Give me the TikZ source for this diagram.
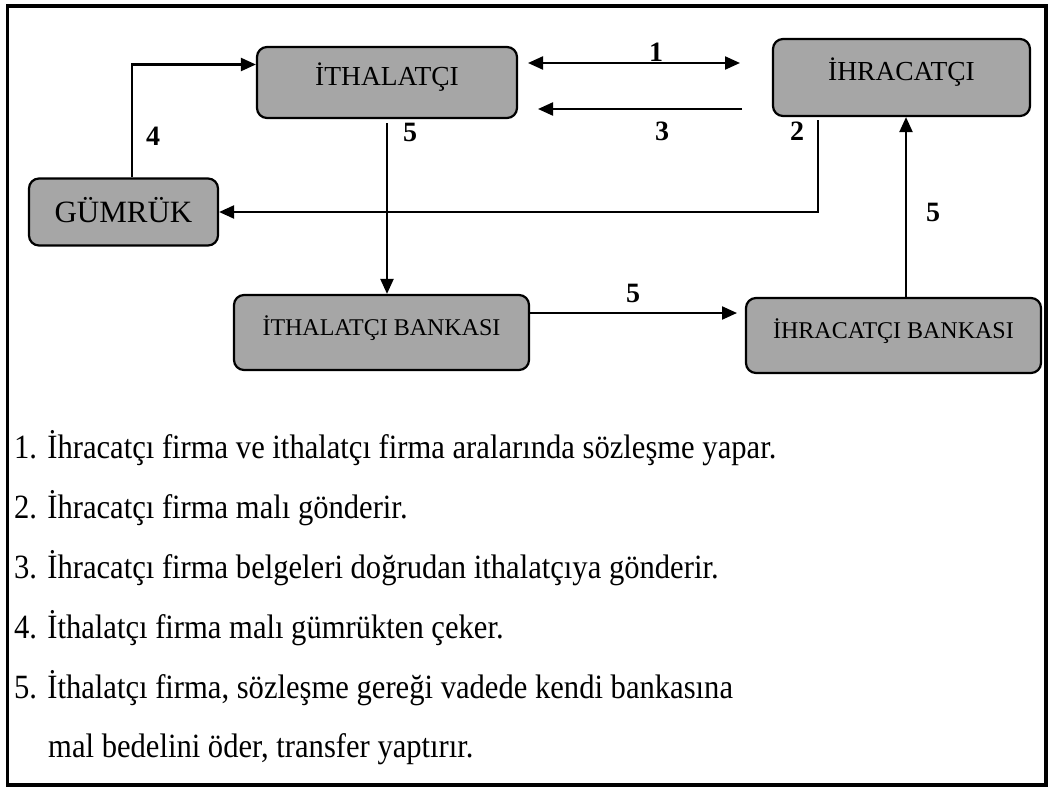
\documentclass[tikz,border=0pt]{standalone}
\usepackage{fontspec}
\setmainfont{Liberation Serif}
\newfontfamily\listfont[FakeStretch=0.9]{Liberation Serif}
\usetikzlibrary{arrows.meta}
\definecolor{boxgray}{RGB}{166,166,166}
\begin{document}
\begin{tikzpicture}[x=1pt,y=-1pt]
    \tikzset{
      party/.style={draw,rectangle,rounded corners=10pt,line width=2.2pt,
        fill=boxgray,text height=19pt,text depth=13pt,
        font=\fontsize{27.5pt}{32pt}\selectfont},
      bank/.style={party,font=\fontsize{24pt}{28pt}\selectfont,
        text height=18pt,minimum width=295pt,minimum height=75pt},
      num/.style={inner sep=0pt,font=\fontsize{28pt}{32pt}\selectfont\bfseries},
      item/.style={anchor=base west,inner sep=0pt,
        font=\listfont\fontsize{34pt}{40pt}\selectfont},
      arr/.style={-{Triangle[length=15pt,width=13pt]},line width=2.2pt},
      darr/.style={{Triangle[length=15pt,width=13pt]}-{Triangle[length=15pt,width=13pt]},
        line width=2.2pt}
    }
    \useasboundingbox (0,0) rectangle (1049,787);
    \draw[line width=3.2pt] (7.5,6) rectangle (1046,785);

    \node[party,minimum width=260pt,minimum height=71pt] (ith) at (387,82.5) {İTHALATÇI};
    \node[party,minimum width=257pt,minimum height=77pt] (ihr) at (901.5,77.5) {İHRACATÇI};
    \node[party,font=\fontsize{31pt}{36pt}\selectfont,text height=20.5pt,text depth=0pt,
      minimum width=189pt,minimum height=67pt] (gum) at (123.5,212) {GÜMRÜK};
    \node[bank] (ithb) at (381.5,332.5) {İTHALATÇI BANKASI};
    \node[bank] (ihrb) at (893.5,335.5) {İHRACATÇI BANKASI};

    \coordinate (c1l) at (528,63);
    \coordinate (c1r) at (740,63);
    \coordinate (c3r) at (742,109);
    \coordinate (c3l) at (538,109);
    \coordinate (c2) at (818,120);
    \coordinate (c5r) at (737,313);
    \coordinate (c5u) at (906,0);

    \draw[darr] (c1l) -- (c1r);
    \draw[arr] (c3r) -- (c3l);
    \draw[arr] (c2) |- (gum.east);
    \draw[arr] ([xshift=8.5pt]gum.north) |- ([yshift=18pt]ith.west);
    \draw[arr] ([yshift=-4pt]ith.south) -- (ith.south |- ithb.north);
    \draw[arr] (ithb.east |- c5r) -- (c5r);
    \draw[arr] (ihrb.north -| c5u) -- (ihr.south -| c5u);

    \node[num] (n1) at (656,52) {1};
    \node[num] (n3) at (662,131) {3};
    \node[num] (n2) at (797,131) {2};
    \node[num] (n5a) at (410,132) {5};
    \node[num] (n4) at (153,136) {4};
    \node[num] (n5b) at (933,212) {5};
    \node[num] (n5c) at (633,293) {5};

    \node[item] (t1) at (14,458) {1. İhracatçı firma ve ithalatçı firma aralarında sözleşme yapar.};
    \node[item] (t2) at (14,518) {2. İhracatçı firma malı gönderir.};
    \node[item] (t3) at (14,578) {3. İhracatçı firma belgeleri doğrudan ithalatçıya gönderir.};
    \node[item] (t4) at (14,638) {4. İthalatçı firma malı gümrükten çeker.};
    \node[item] (t5) at (14,698) {5. İthalatçı firma, sözleşme gereği vadede kendi bankasına};
    \node[item] (t6) at (48,757) {mal bedelini öder, transfer yaptırır.};
  \end{tikzpicture}
\end{document}
